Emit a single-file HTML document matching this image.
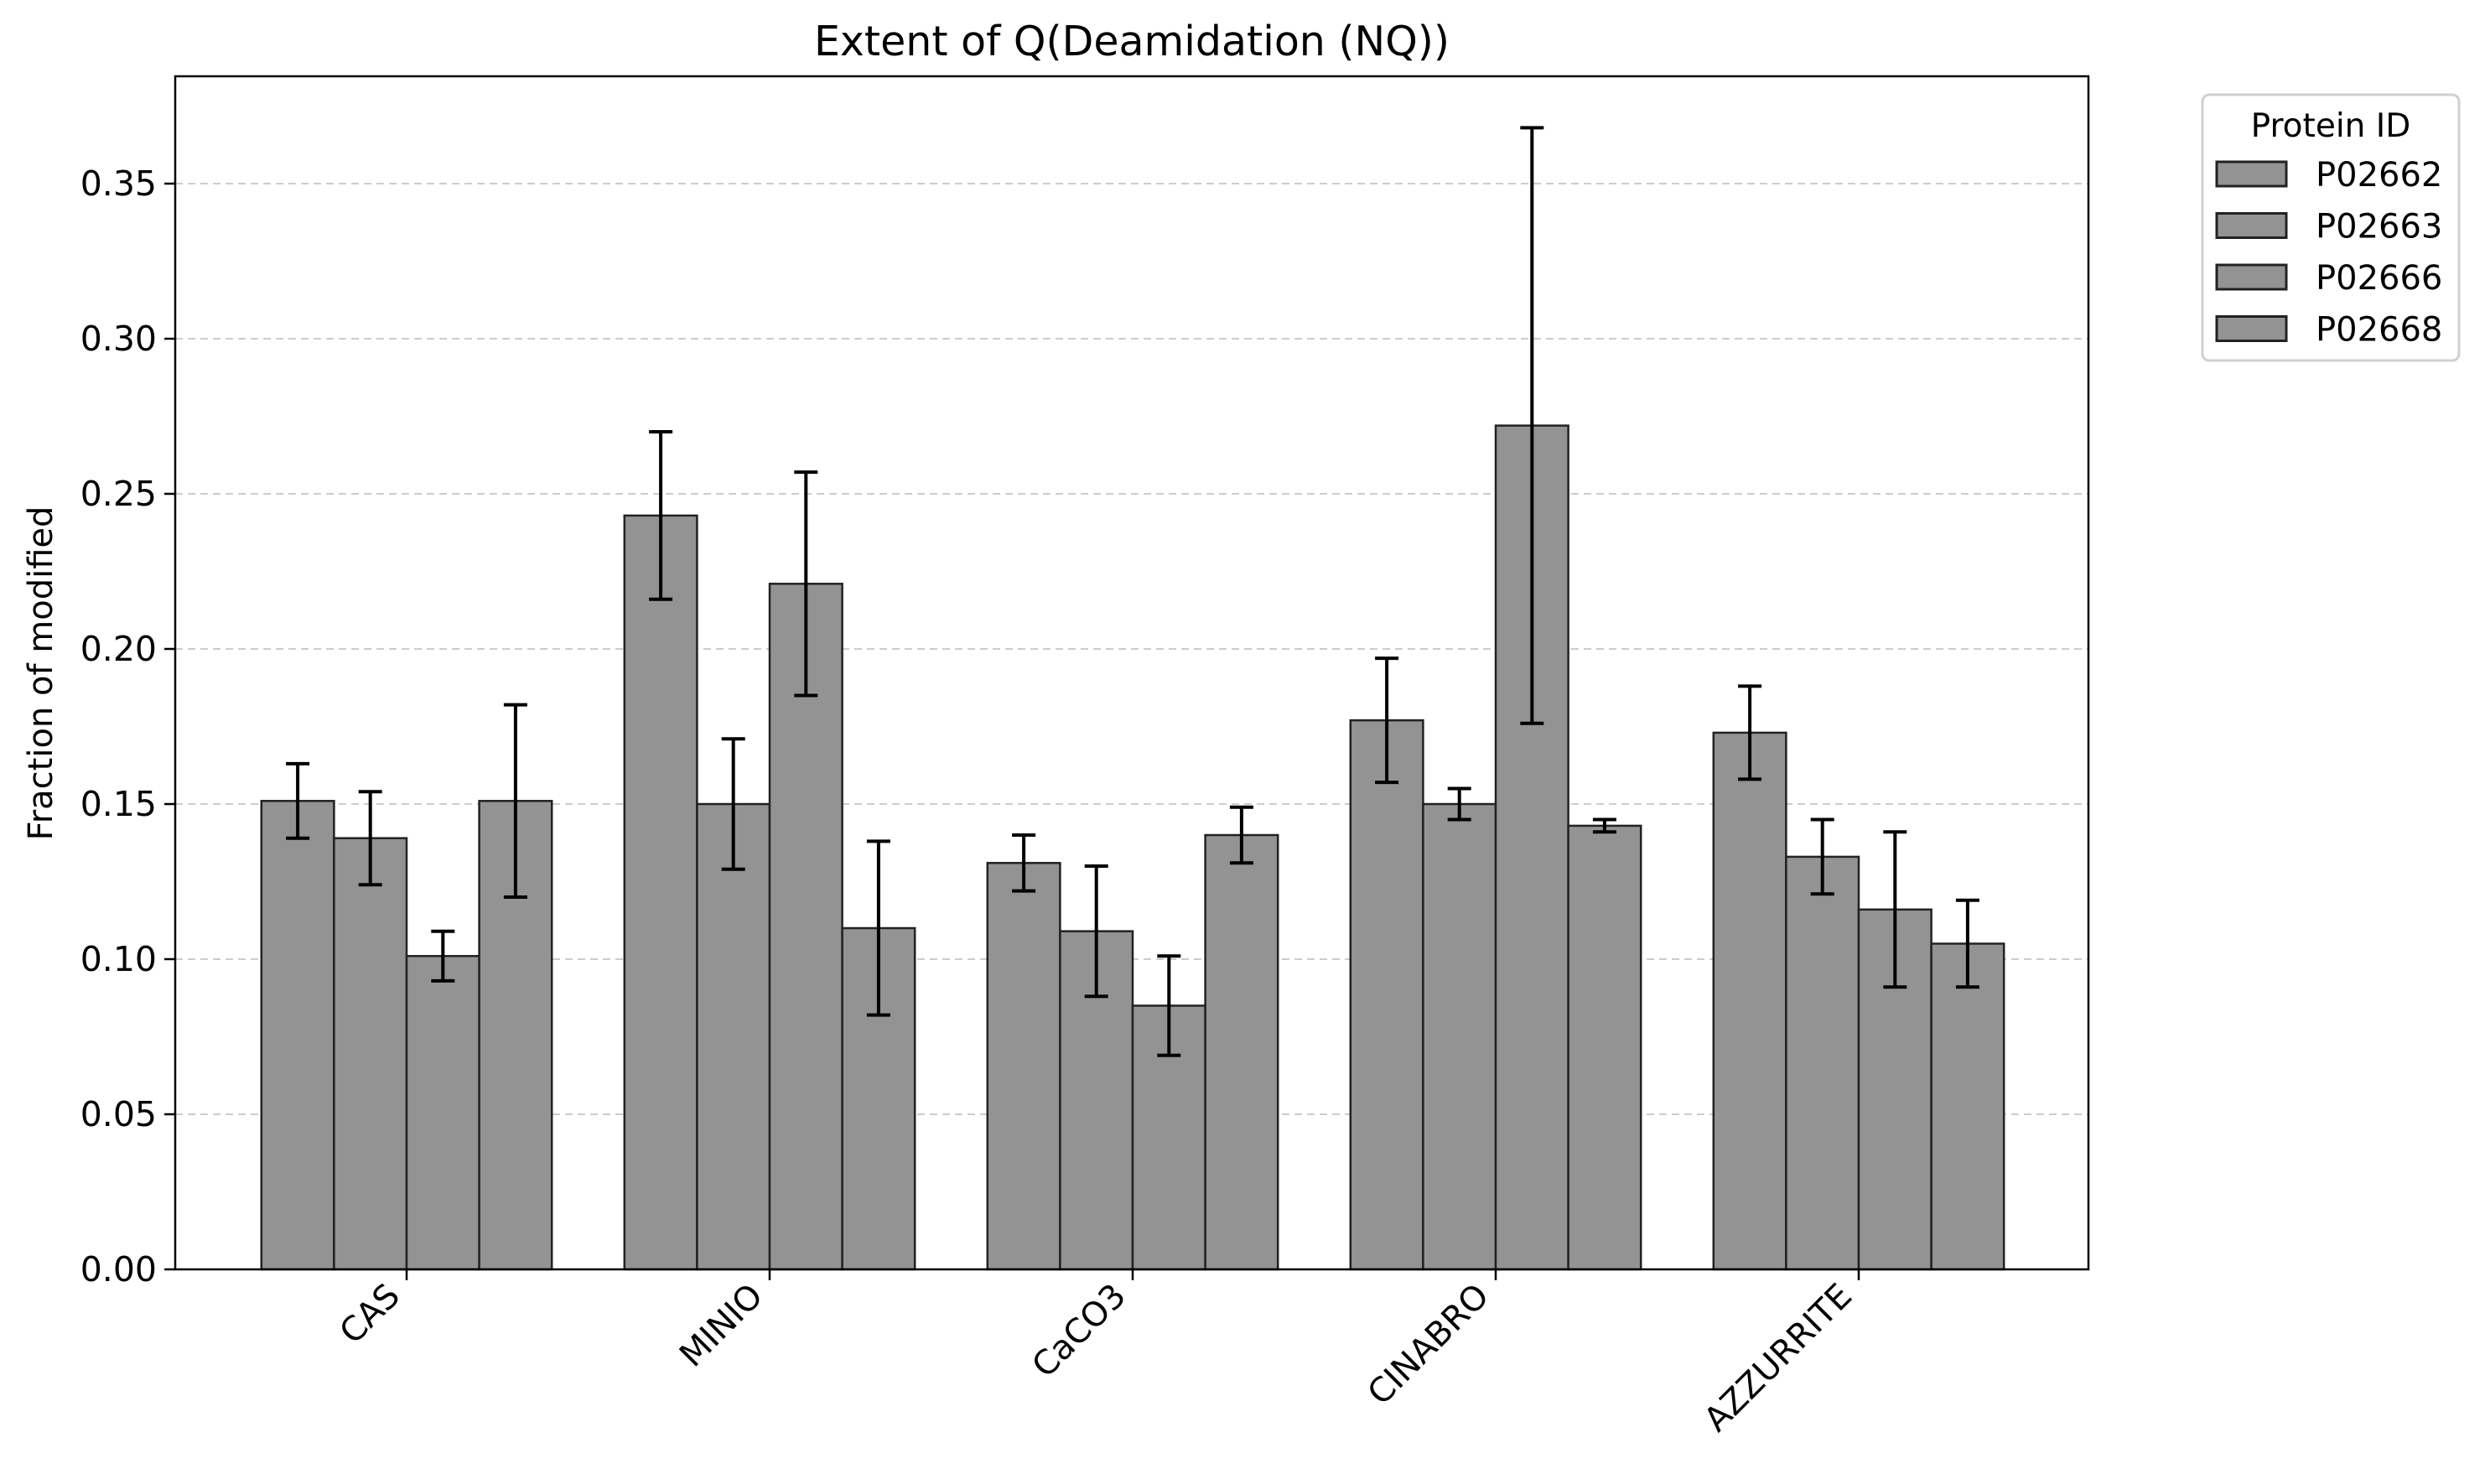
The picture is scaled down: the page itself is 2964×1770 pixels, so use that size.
<!DOCTYPE html>
<html><head><meta charset="utf-8"><style>
html,body{margin:0;padding:0;background:#fff;}
svg{display:block;font-family:"DejaVu Sans","Liberation Sans",sans-serif;}
</style></head><body>
<svg id="chart" width="2964" height="1770" viewBox="0 0 2964 1770" xmlns="http://www.w3.org/2000/svg">
<rect width="2964" height="1770" fill="#fff"/>
<g id="grid"></g>
<g id="bars"></g>
<g id="errs"></g>
<rect x="209" y="91" width="2282" height="1423" fill="none" stroke="#000" stroke-width="2.5"/>
<g id="yticks"></g>
<g id="xticks"></g>
<text x="1350" y="66" text-anchor="middle" font-size="49">Extent of Q(Deamidation (NQ))</text>
<text transform="translate(62,803) rotate(-90)" text-anchor="middle" font-size="40">Fraction of modified</text>
<g id="legend">
<rect x="2627" y="113" width="306" height="317" rx="8" fill="#fff" stroke="#d0d0d0" stroke-width="3"/>
<text x="2780" y="163" text-anchor="middle" font-size="39">Protein ID</text>
</g>
</svg>
<script>
const categories = ["CAS","MINIO","CaCO3","CINABRO","AZZURRITE"];
const proteins = ["P02662","P02663","P02666","P02668"];
const sP02662 = [0.151,0.243,0.131,0.177,0.173];
const sP02663 = [0.139,0.150,0.109,0.150,0.133];
const sP02666 = [0.101,0.221,0.085,0.272,0.116];
const sP02668 = [0.151,0.110,0.140,0.143,0.105];
const eP02662 = [0.012,0.027,0.009,0.020,0.015];
const eP02663 = [0.015,0.021,0.021,0.005,0.012];
const eP02666 = [0.008,0.036,0.016,0.096,0.025];
const eP02668 = [0.031,0.028,0.009,0.002,0.014];
const yTicks = [0,0.05,0.10,0.15,0.20,0.25,0.30,0.35];
const series=[sP02662,sP02663,sP02666,sP02668];
const errs=[eP02662,eP02663,eP02666,eP02668];
const NS="http://www.w3.org/2000/svg";
const L=209,R=2491,B=1514;
const y=v=>B-v*3700;
const x=i=>485+i*433;
const bw=86.6;
function mk(t,a,p){const e=document.createElementNS(NS,t);for(const k in a)e.setAttribute(k,a[k]);document.getElementById(p).appendChild(e);return e;}
yTicks.forEach((t,i)=>{
 if(t>0){const g=mk('line',{x1:L,x2:R,y1:y(t),y2:y(t),stroke:'#cccccc','stroke-width':2,'stroke-dasharray':'9,6'},'grid');
 
 }
 const tk=mk('line',{x1:L-13,x2:L,y1:y(t),y2:y(t),stroke:'#000','stroke-width':2.5},'yticks');
 
 
 const lb=mk('text',{x:L-22,y:y(t)+14,'text-anchor':'end','font-size':41},'yticks');
 lb.textContent=t.toFixed(2);
 
 
});
categories.forEach((c,i)=>{
 const tk=mk('line',{x1:x(i),x2:x(i),y1:B,y2:B+13,stroke:'#000','stroke-width':2.5},'xticks');
 
 
 const lb=mk('text',{transform:`translate(${x(i)-6},${B+34}) rotate(-45)`,'text-anchor':'end','font-size':40},'xticks');
 lb.textContent=c;
 
 
 series.forEach((s,j)=>{
  const cx=x(i)+(j-1.5)*bw;
  const r=mk('rect',{x:cx-bw/2,y:y(s[i]),width:bw,height:B-y(s[i]),fill:'#939393',stroke:'#222','stroke-width':2.5},'bars');
  
  
  const e=errs[j][i],t=y(s[i]+e),b=y(s[i]-e);
  const eg=mk('path',{d:`M${cx},${t}V${b}M${cx-14},${t}H${cx+14}M${cx-14},${b}H${cx+14}`,stroke:'#000','stroke-width':4,fill:'none'},'errs');
  
  
 });
});
proteins.forEach((p,j)=>{
 const cy=208+j*61.5;
 const r=mk('rect',{x:2644,y:cy-15,width:83,height:29,fill:'#939393',stroke:'#222','stroke-width':3},'legend');
 
 
 const t=mk('text',{x:2762,y:cy+14,'font-size':40},'legend');
 t.textContent=p;
 
 
});
</script>
</body></html>
